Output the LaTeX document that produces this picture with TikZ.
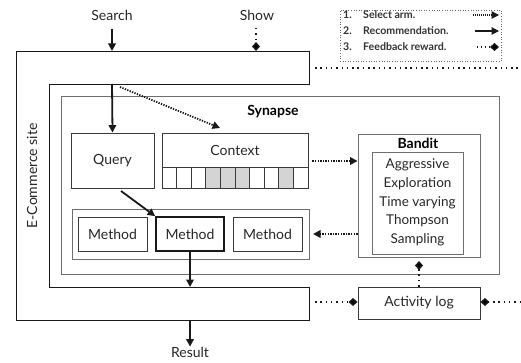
\documentclass[tikz,border=0pt]{standalone}
\usepackage{fontspec}
\setmainfont{Lato}
\usetikzlibrary{arrows.meta}
\definecolor{boxc}{HTML}{3A3A3A}
\definecolor{grayc}{HTML}{6E6E6E}
\definecolor{cellc}{HTML}{D4D4D4}
\begin{document}
\begin{tikzpicture}[x=1pt,y=-1pt,
  txt/.style={font=\fontsize{14}{16}\selectfont, text=black!85, inner sep=0pt},
  boldtxt/.style={font=\bfseries\fontsize{14}{16}\selectfont, inner sep=0pt},
  legtxt/.style={font=\bfseries\fontsize{10.6}{12}\selectfont, text=black!80, inner sep=0pt, anchor=west},
  boxd/.style={draw=boxc, line width=0.9pt},
  grayd/.style={draw=grayc, line width=0.9pt},
  recarrow/.style={line width=1.8pt, draw=black!90, -{Triangle[length=7.5pt,width=7.5pt]}},
  selarrow/.style={line width=1.8pt, draw=black!90, dash pattern=on 1.3pt off 1.3pt, -{Triangle[length=7.5pt,width=7.5pt]}},
  fbarrow/.style={line width=1.5pt, draw=black!90, dash pattern=on 1.5pt off 3.8pt, -{Diamond[length=9pt,width=8pt,fill=black]}},
  fbline/.style={line width=1.5pt, draw=black!90, dash pattern=on 1.5pt off 3.8pt},
]
\useasboundingbox (0,0) rectangle (521,363);

% E-Commerce outline
\draw[line width=0.9pt, draw=black!90] (16,51) -- (309,51) -- (309,84) -- (49,84) -- (49,287) -- (309,287) -- (309,320) -- (16,320) -- cycle;
\node[txt, rotate=90] (ecom) at (32,176) {E-Commerce site};
\coordinate (ecomtop) at (112,51);
\coordinate (ecomshow) at (256,51);
\coordinate (steptop) at (112,84);
\coordinate (stepdot) at (120,87);
\coordinate (stepbot) at (190,287);
\coordinate (ecombot) at (190,320);
\coordinate (ecomright) at (315,68);
\coordinate (rightedge) at (521,68);
\coordinate (ecomlog) at (315,302);
\coordinate (rightlog) at (521,302);

% Top labels
\node[txt] (search) at (112,15) {Search};
\node[txt] (show) at (257,15) {Show};
\draw[recarrow] (112,29) -- (ecomtop);
\draw[fbarrow] (256,28) -- (ecomshow);

% Legend
\node[draw=black!60, dotted, line width=0.6pt, minimum width=161pt, minimum height=51pt, inner sep=0pt] (legend) at (420.5,35.5) {};
\node[legtxt] (l1n) at (343,15) {1.};
\node[legtxt] (l1) at (363,15) {Select arm.};
\node[legtxt] (l2n) at (343,31) {2.};
\node[legtxt] (l2) at (363,31) {Recommendation.};
\node[legtxt] (l3n) at (343,47) {3.};
\node[legtxt] (l3) at (363,47) {Feedback reward.};
\coordinate (a1s) at (473,15); \coordinate (a1e) at (499,15);
\coordinate (a2s) at (475,31); \coordinate (a2e) at (499,31);
\coordinate (a3s) at (477,47); \coordinate (a3e) at (499,47);
\draw[selarrow, line width=1.1pt, dash pattern=on 1pt off 1pt] (a1s) -- (a1e);
\draw[recarrow, line width=1.2pt] (a2s) -- (a2e);
\draw[fbarrow, line width=1.1pt, dash pattern=on 1pt off 3pt] (a3s) -- (a3e);

\draw[fbline] (ecomright) -- (rightedge);

% Synapse
\node[grayd, minimum width=438pt, minimum height=178pt, inner sep=0pt] (syn) at (280,185) {};
\node[boldtxt] (synlabel) at (273,112) {Synapse};

% Query
\node[boxd, txt, minimum width=83pt, minimum height=55pt] (query) at (112.5,160.5) {Query};
\draw[recarrow] (steptop) -- (query.north);

% Context
\node[boxd, minimum width=146pt, minimum height=55pt, inner sep=0pt] (context) at (235,160.5) {};
\node[txt] (ctxlabel) at (235,150) {Context};
\foreach \i in {3,4,5,8} {
  \fill[cellc] ({162+14.6*\i},167) rectangle ({162+14.6*(\i+1)},188);
}
\foreach \i in {1,...,9} {
  \draw[boxc, line width=0.8pt] ({162+14.6*\i},167) -- ({162+14.6*\i},188);
}
\draw[boxc, line width=0.9pt] (162,167) -- (308,167);
\draw[boxd] (162,133) rectangle (308,188);
\coordinate (ctxtarget) at (220,128);
\draw[selarrow] (stepdot) -- (ctxtarget);

% Bandit
\node[grayd, minimum width=122pt, minimum height=123pt, inner sep=0pt] (bandit) at (419,195.5) {};
\node[boldtxt] (banditlabel) at (418,143) {Bandit};
\node[grayd, minimum width=91pt, minimum height=102pt, inner sep=0pt] (banditin) at (417.5,203) {};
\node[txt, align=center, font=\fontsize{13.5}{18.7}\selectfont] (algos) at (417.5,202.5) {Aggressive\\Exploration\\Time varying\\Thompson\\Sampling};
\draw[selarrow] (context.east |- 0,161) ++(4,0) coordinate (cb1) -- (bandit.west |- 0,161);

% Methods
\node[grayd, minimum width=237pt, minimum height=50pt, inner sep=0pt] (methods) at (190.5,234) {};
\node[boxd, txt, minimum width=69pt, minimum height=34pt] (m1) at (112.5,234) {Method};
\node[txt, draw=black!90, line width=1.8pt, minimum width=68pt, minimum height=34pt] (m2) at (190,234) {Method};
\node[boxd, txt, minimum width=69pt, minimum height=34pt] (m3) at (267.5,234) {Method};
\coordinate (qout) at (121,191);
\draw[recarrow] (qout) -- (m2.north west);
\coordinate (mtarget) at (313,234);
\draw[selarrow] (bandit.west |- 0,234) -- (mtarget);
\draw[recarrow] (m2.south) -- (stepbot);

% Result
\node[txt] (result) at (190,352) {Result};
\draw[recarrow] (ecombot) -- (result.north);

% Activity log
\node[boxd, txt, minimum width=122pt, minimum height=32pt] (log) at (419,303) {Activity log};
\coordinate (logdiam) at (419,261);
\draw[fbarrow] (log.north) -- (logdiam);
\draw[fbarrow] (ecomlog) -- (log.west |- 0,302);
\draw[fbarrow] (rightlog) -- (log.east |- 0,302);
\end{tikzpicture}
\end{document}
